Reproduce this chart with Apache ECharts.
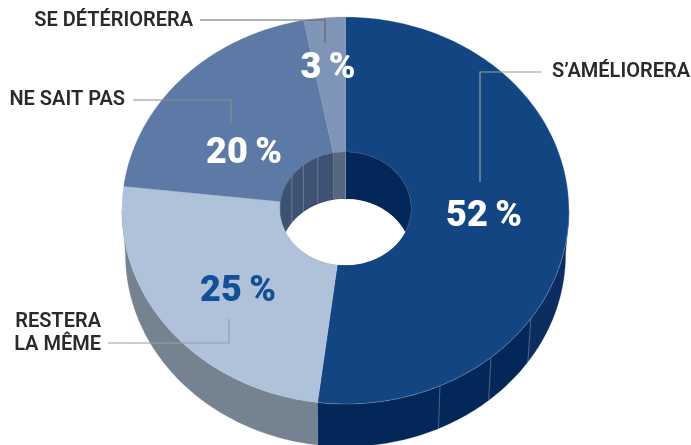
<!DOCTYPE html>
<html>
<head>
<meta charset="utf-8">
<style>html,body{margin:0;padding:0;background:#fff}#c{width:691px;height:445px}</style>
<script src="https://cdn.jsdelivr.net/npm/echarts@6/dist/echarts.min.js"></script>
</head>
<body>
<div id="c"></div>
<script>
const categories = ["S’AMÉLIORERA", "RESTERA\nLA MÊME", "NE SAIT PAS", "SE DÉTÉRIORERA"];
const values = [52, 25, 20, 3];
const topColors = ["#134583", "#b0c2da", "#5d79a5", "#7f95b7"];
const sideColors = ["#04275a", "#75828f", "#3e5273", "#58677f"];
const wallColors = ["#04275a", "#3e5273", "#3e5273", "#58677f"];
const valueColors = ["#ffffff", "#134f96", "#ffffff", "#ffffff"];
const outerFacets = [124, 139.4, 155];
const wallFacets = [-55, -40, -25];

const T = { cx: 345.5, cy: 210.5, rx: 223.5, ry: 193.5 };
const B = { cx: 345.5, cy: 254.5, rx: 220, ry: 192 };
const H = { cx: 345.5, cy: 208.5, rx: 65.5, ry: 56.5 };
const HOLE_DEPTH = 47;
const rad = d => d * Math.PI / 180;
const pt = (e, a) => [e.cx + e.rx * Math.sin(rad(a)), e.cy - e.ry * Math.cos(rad(a))];
function arc(e, a, b) {
  const n = Math.max(2, Math.ceil(Math.abs(b - a))), out = [];
  for (let i = 0; i <= n; i++) out.push(pt(e, a + (b - a) * i / n));
  return out;
}
const total = values.reduce((s, v) => s + v, 0);
const spans = [];
values.reduce((acc, v) => { const e = acc + v / total * 360; spans.push([acc, e]); return e; }, 0);

function wallPoint(a) {
  const p = pt(H, a);
  const low = H.cy + H.ry * Math.abs(Math.cos(rad(a)));
  return [p[0], Math.min(p[1] + HOLE_DEPTH, low)];
}
function wallStrip(a, b) {
  const n = Math.max(2, Math.ceil(Math.abs(b - a))), up = [], dn = [];
  for (let i = 0; i <= n; i++) {
    const t = a + (b - a) * i / n;
    up.push(pt(H, t)); dn.unshift(wallPoint(t));
  }
  return up.concat(dn);
}

function sideItem(params) {
  const i = params.dataIndex, s = spans[i];
  const a = Math.max(s[0], 90), b = Math.min(s[1], 270);
  const children = [];
  if (a < b) {
    children.push({ type: 'polygon', shape: { points: arc(T, a, b).concat(arc(B, b, a)) },
      style: { fill: sideColors[i], stroke: sideColors[i], lineWidth: 0.3 } });
  }
  if (i === 0) {
    children.push({ type: 'polygon', shape: { points: arc(T, 90, outerFacets[0]).concat(arc(B, outerFacets[0], 90)) },
      style: { fill: 'rgba(255,255,255,0.03)' } });
    outerFacets.forEach(f => children.push({ type: 'line',
      shape: { x1: pt(T, f)[0], y1: pt(T, f)[1], x2: pt(B, f)[0], y2: pt(B, f)[1] },
      style: { stroke: 'rgba(190,205,225,0.45)', lineWidth: 0.8 } }));
  }
  return { type: 'group', children };
}
function topItem(params) {
  const i = params.dataIndex, s = spans[i];
  return { type: 'polygon', shape: { points: arc(T, s[0], s[1]).concat(arc(H, s[1], s[0])) },
    style: { fill: topColors[i], stroke: i === 0 ? 'rgba(205,218,235,0.45)' : topColors[i], lineWidth: i === 0 ? 0.6 : 0.3 } };
}
function wallItem(params) {
  const i = params.dataIndex, s = spans[i];
  const children = [];
  [[0, 90], [270, 360]].forEach(r => {
    const a = Math.max(s[0], r[0]), b = Math.min(s[1], r[1]);
    if (a < b) children.push({ type: 'polygon', shape: { points: wallStrip(a, b) },
      style: { fill: wallColors[i], stroke: wallColors[i], lineWidth: 0.3 } });
  });
  if (i === 3) wallFacets.concat([0]).forEach(f => children.push({ type: 'line', z2: 5,
    shape: { x1: pt(H, f)[0], y1: pt(H, f)[1], x2: wallPoint(f)[0], y2: wallPoint(f)[1] },
    style: { stroke: 'rgba(200,210,225,0.45)', lineWidth: 0.7 } }));
  return { type: 'group', children };
}
function lensItem() {
  const S = { cx: H.cx, cy: H.cy + HOLE_DEPTH, rx: H.rx, ry: H.ry };
  return { type: 'polygon',
    shape: { points: arc(S, -65.4, 65.4).concat(arc(H, 114.6, 245.4)) },
    style: { fill: '#ffffff' } };
}
const seriesOf = (render, z, data) => ({ type: 'custom', coordinateSystem: 'none', renderItem: render, data, z, silent: true, animation: false, clip: false });
const rows = values.map((v, i) => [i, v]);

const labelLines = [
  [[542, 72], [480, 72], [480, 182]],
  [[108, 343], [229, 343], [229, 319]],
  [[133, 100], [231, 100], [231, 123]],
  [[200, 20], [325, 20], [325, 43]]
];
const labelPos = [
  { x: 690, y: 72, align: 'right' },
  { x: 101, y: 333.5, align: 'right' },
  { x: 125, y: 100, align: 'right' },
  { x: 193, y: 21, align: 'right' }
];
const valuePos = [[484, 217], [238, 292], [244, 154], [328, 69]];
const lineColors = ['#9b9ea3', '#9b9b9b', '#8c8c8c', '#666666'];

const graphic = [];
values.forEach((v, i) => {
  graphic.push({ type: 'polyline', z: 100, shape: { points: labelLines[i] }, style: { fill: 'none', stroke: lineColors[i], lineWidth: 1.2 } });
  graphic.push({ type: 'text', z: 101, x: labelPos[i].x, y: labelPos[i].y,
    style: { text: categories[i], fill: '#2a2a2a', font: '600 20px Roboto', align: labelPos[i].align, verticalAlign: 'middle', lineHeight: 23 } });
  graphic.push({ type: 'text', z: 101, x: valuePos[i][0], y: valuePos[i][1],
    style: { text: v + '\u2009%', fill: valueColors[i], font: '900 36px Roboto', align: 'center', verticalAlign: 'middle' } });
});

const chart = echarts.init(document.getElementById('c'), null, { renderer: 'canvas', width: 691, height: 445 });
chart.setOption({
  backgroundColor: '#ffffff',
  animation: false,
  graphic,
  series: [
    seriesOf(sideItem, 1, rows),
    seriesOf(topItem, 2, rows),
    seriesOf(wallItem, 3, rows),
    seriesOf(lensItem, 4, [[0]])
  ]
});
</script>
</body>
</html>
